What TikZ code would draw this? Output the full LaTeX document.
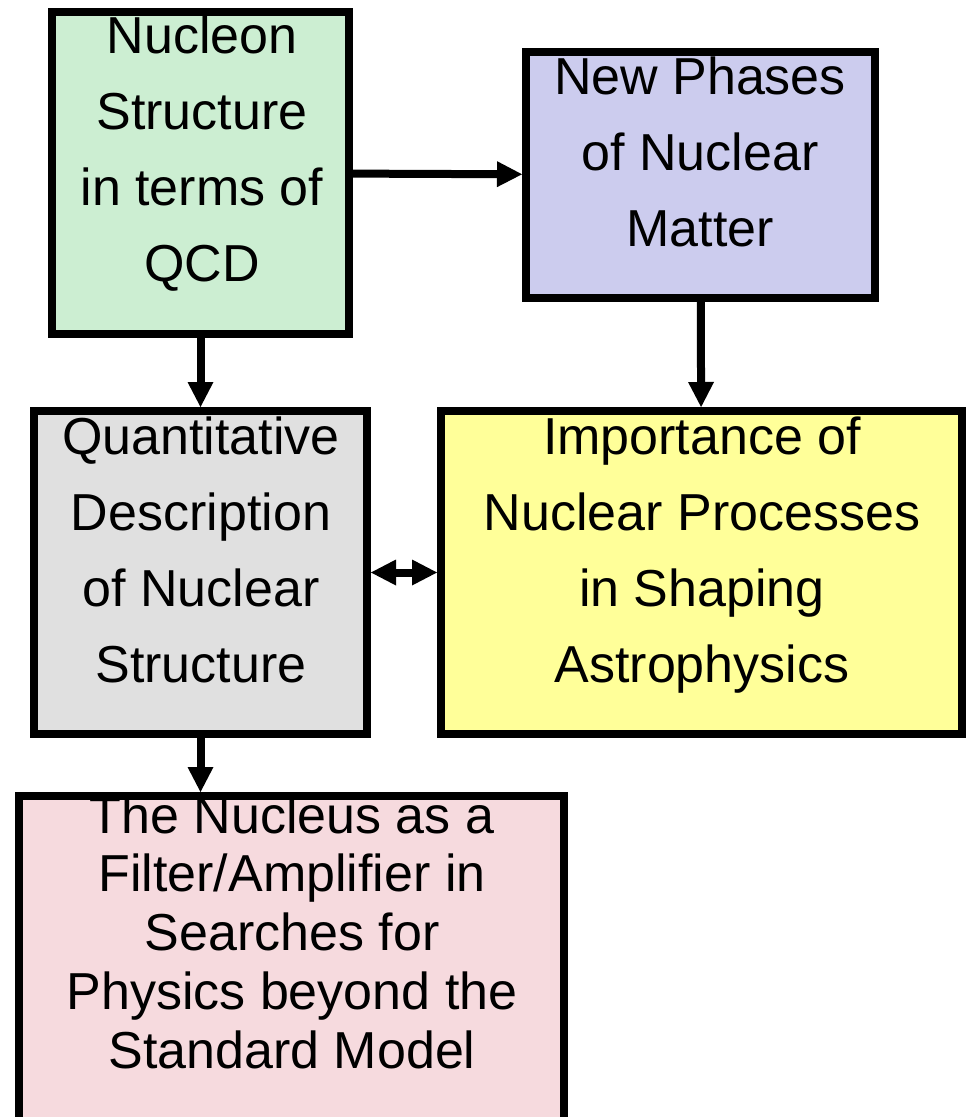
\documentclass[tikz,border=0pt]{standalone}
\usepackage{fontspec}
\setmainfont{Liberation Sans}
\usetikzlibrary{arrows.meta}

\definecolor{qcdgreen}{RGB}{204,238,210}
\definecolor{phaseblue}{RGB}{204,204,238}
\definecolor{structgray}{RGB}{224,224,224}
\definecolor{astroyellow}{RGB}{255,255,153}
\definecolor{bsmpink}{RGB}{246,218,222}

\begin{document}
\begin{tikzpicture}[x=0.5pt,y=-0.5pt,
        >={Triangle[length=12.5pt,width=13pt,line width=0pt]},
        box/.style={draw=black,line width=4pt,inner sep=0pt},
        txt/.style={anchor=base,align=center,font=\fontsize{26pt}{38pt}\selectfont},
        arr/.style={line width=4pt,->}]
        \useasboundingbox (0,0) rectangle (966,1117);
        % boxes
        \node[box,fill=qcdgreen,minimum width=148.5pt,minimum height=160.75pt] (nucleon) at (200.5,173) {};
        \node[box,fill=phaseblue,minimum width=174.5pt,minimum height=123pt] (phases) at (700.5,175) {};
        \node[box,fill=structgray,minimum width=166.5pt,minimum height=161.5pt] (nucstruct) at (200.5,572.5) {};
        \node[box,fill=astroyellow,minimum width=260.5pt,minimum height=161.5pt] (astro) at (701.5,572.5) {};
        \node[box,fill=bsmpink,minimum width=272.5pt,minimum height=170pt] (bsm) at (291.5,966) {};
        % texts (anchored at the last baseline)
        \node[txt] (nucleon-txt) at (202,282) {Nucleon\\Structure\\in terms of\\QCD};
        \node[txt] (phases-txt) at (700,247) {New Phases\\of Nuclear\\Matter};
        \node[txt] (nucstruct-txt) at (201,682) {Quantitative\\Description\\of Nuclear\\Structure};
        \node[txt] (astro-txt) at (702,682) {Importance of\\Nuclear Processes\\in Shaping\\Astrophysics};
        \node[txt,font=\fontsize{26pt}{29.35pt}\selectfont] (bsm-txt) at (292,1068) {The Nucleus as a\\Filter/Amplifier in\\Searches for\\Physics beyond the\\Standard Model};
        % connectors
        \draw[arr] (nucleon) -- (phases);
        \draw[arr] (nucleon) -- (nucstruct);
        \draw[arr] (phases) -- (astro);
        \draw[line width=4pt,<->] (nucstruct) -- (astro);
        \draw[arr] (nucstruct.south) -- (nucstruct.south |- bsm.north);
\end{tikzpicture}
\end{document}
